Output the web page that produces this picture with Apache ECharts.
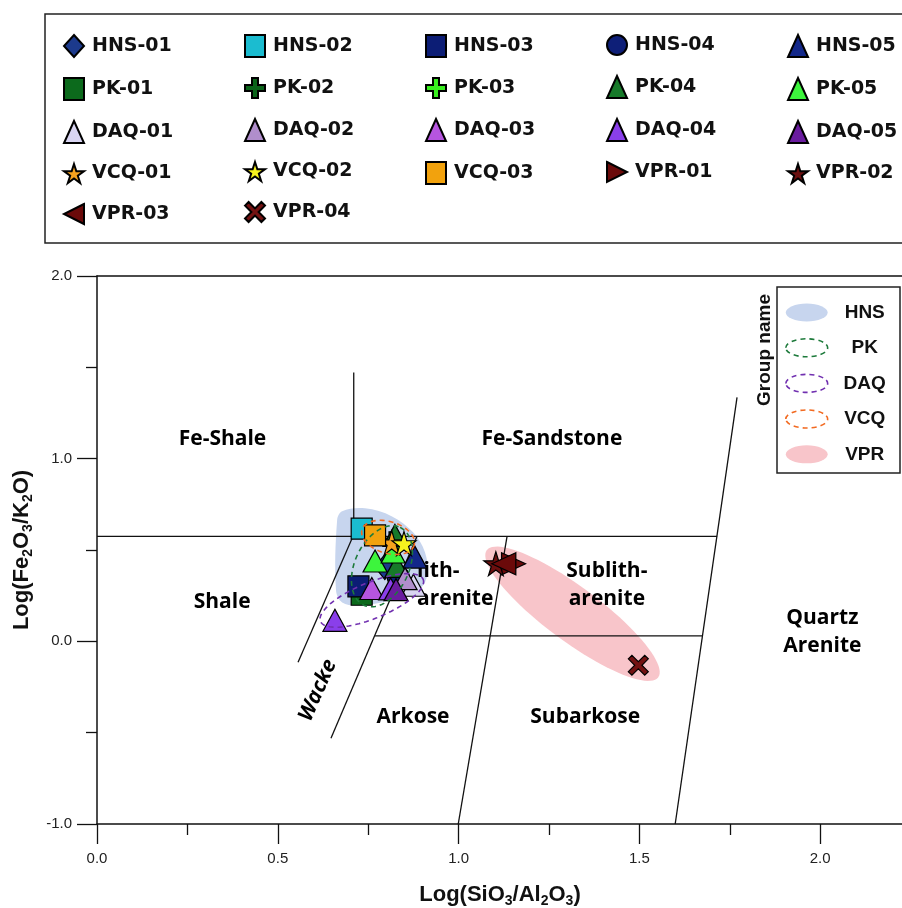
<!DOCTYPE html>
<html>
<head>
<meta charset="utf-8">
<script src="https://cdn.jsdelivr.net/npm/echarts@6/dist/echarts.min.js"></script>
<style>
  html, body { margin: 0; padding: 0; background: #fff; }
  #chart { width: 902px; height: 908px; }
</style>
</head>
<body>
<div id="chart"></div>
<script>
// samples (legend order, 5 per row)
const sampleNames = [
  'HNS-01', 'HNS-02', 'HNS-03', 'HNS-04', 'HNS-05',
  'PK-01', 'PK-02', 'PK-03', 'PK-04', 'PK-05',
  'DAQ-01', 'DAQ-02', 'DAQ-03', 'DAQ-04', 'DAQ-05',
  'VCQ-01', 'VCQ-02', 'VCQ-03', 'VPR-01', 'VPR-02',
  'VPR-03', 'VPR-04'
]
const sampleShapes = [
  'diamond', 'rect', 'rect', 'circle', 'triangle',
  'rect', 'plus', 'plus', 'triangle', 'triangle',
  'triangle', 'triangle', 'triangle', 'triangle', 'triangle',
  'star', 'star', 'rect', 'right', 'star',
  'left', 'x'
]
const sampleColors = [
  '#1c3a8c', '#1bbcd0', '#0c1d75', '#0e1f78', '#13288a',
  '#0c6a1c', '#0b641a', '#39ee1f', '#177a2a', '#3df53d',
  '#d9d5f2', '#b08ecc', '#b655df', '#8a3fea', '#6a1c9f',
  '#f6a21e', '#f7f31e', '#f2a20d', '#6b0a0a', '#6b0f0f',
  '#6b0a0a', '#731212'
]
// [log(SiO2/Al2O3), log(Fe2O3/K2O)] per sample
const samplePoints = [
  [[0.796, 0.407]], [[0.732, 0.617]], [[0.723, 0.301]], [[0.833, 0.352]], [[0.879, 0.461]],
  [[0.732, 0.255]], [[0.815, 0.55]], [[0.83, 0.52]], [[0.824, 0.58], [0.829, 0.41]], [[0.769, 0.44], [0.819, 0.489]],
  [[0.875, 0.307]], [[0.852, 0.343]], [[0.76, 0.289]], [[0.658, 0.115], [0.812, 0.287]], [[0.827, 0.283]],
  [[0.815, 0.54]], [[0.849, 0.535]], [[0.769, 0.58]], [[1.152, 0.425]], [[1.103, 0.425]],
  [[1.125, 0.425]], [[1.497, -0.131]]
]

// group fields
const groupNames = ['HNS', 'PK', 'DAQ', 'VCQ', 'VPR']
const hnsOutline = [
  [0.664, 0.662], [0.678, 0.712], [0.741, 0.728], [0.816, 0.684], [0.874, 0.597], [0.907, 0.487],
  [0.913, 0.361], [0.888, 0.279], [0.81, 0.224], [0.727, 0.197], [0.678, 0.213], [0.661, 0.279]
]
// ellipse: centre, end of major axis, end of minor axis
const pkEllipse = [[0.788, 0.411], [0.838, 0.624], [0.856, 0.349]]
const daqEllipse = [[0.76, 0.224], [0.902, 0.339], [0.779, 0.133]]
const vcqEllipse = [[0.805, 0.569], [0.877, 0.526], [0.792, 0.486]]
const vprEllipse = [[1.315, 0.151], [1.552, -0.197], [1.27, 0.032]]

// classification boundaries
const boundaryLines = [
  [[0, 0.575], [1.715, 0.575]],
  [[0.71, 0.575], [0.71, 1.472]],
  [[0.556, -0.115], [0.708, 0.575]],
  [[0.647, -0.531], [0.885, 0.575]],
  [[0.769, 0.03], [1.674, 0.03]],
  [[0.999, -1], [1.134, 0.575]],
  [[1.599, -1], [1.77, 1.336]]
]
const regionTexts = ['Fe-Shale', 'Fe-Sandstone', 'Shale', 'lith-\narenite', 'Sublith-\narenite', 'Quartz\nArenite', 'Arkose', 'Subarkose', 'Wacke']
const regionPos = [[0.347, 1.106], [1.258, 1.106], [0.346, 0.213], [0.885, 0.307], [1.41, 0.31], [2.006, 0.049], [0.874, -0.416], [1.35, -0.416], [0.611, -0.268]]

const symbolOf = {
  diamond: 'diamond', rect: 'rect', circle: 'circle', triangle: 'triangle',
  plus: 'path://M35,0H65V35H100V65H65V100H35V65H0V35H35Z',
  star: 'path://M50,0L61.2,34.5L97.6,34.5L68.2,55.9L79.4,90.5L50,69.1L20.6,90.5L31.8,55.9L2.4,34.5L38.8,34.5Z',
  x: 'path://M0,18L18,0L50,32L82,0L100,18L68,50L100,82L82,100L50,68L18,100L0,82L32,50Z',
  right: 'path://M0,0L100,50L0,100Z',
  left: 'path://M100,0L0,50L100,100Z'
}
const sizeOf = {
  diamond: [20, 25], rect: 21, circle: 22, triangle: [24, 22], plus: 18,
  star: 24, x: 20, right: [24, 22], left: [24, 22]
}
const groupStyle = {
  HNS: { fill: '#c7d5ee', stroke: null },
  PK: { fill: 'none', stroke: '#1d7a3b' },
  DAQ: { fill: 'none', stroke: '#7130b0' },
  VCQ: { fill: 'none', stroke: '#f26a21' },
  VPR: { fill: '#f8c5ca', stroke: null }
}
const ellipseIcon = 'path://M0,21.5A50,21.5,0,1,1,100,21.5A50,21.5,0,1,1,0,21.5Z'

const chart = echarts.init(document.getElementById('chart'), null, { renderer: 'canvas' })

function ellipsePoints(def, api) {
  const c = api.coord(def[0]), a = api.coord(def[1]), b = api.coord(def[2])
  const rx = Math.hypot(a[0] - c[0], a[1] - c[1])
  const ry = Math.hypot(b[0] - c[0], b[1] - c[1])
  const ang = Math.atan2(a[1] - c[1], a[0] - c[0])
  const pts = []
  for (let i = 0; i < 90; i++) {
    const t = i / 90 * Math.PI * 2
    const ex = rx * Math.cos(t), ey = ry * Math.sin(t)
    pts.push([c[0] + ex * Math.cos(ang) - ey * Math.sin(ang), c[1] + ex * Math.sin(ang) + ey * Math.cos(ang)])
  }
  return pts
}

function groupSeries(name, def, isOutline) {
  const st = groupStyle[name]
  return {
    type: 'custom', name, data: def, encode: { x: 0, y: 1 },
    z: st.stroke ? 7 : 1, silent: true, clip: false,
    renderItem: (params, api) => {
      if (params.dataIndex !== 0) return
      const pts = isOutline ? def.map(p => api.coord(p)) : ellipsePoints(def, api)
      return {
        type: 'polygon',
        shape: { points: pts, smooth: isOutline ? 0.35 : 0 },
        style: st.stroke
          ? { fill: 'none', stroke: st.stroke, lineWidth: 1.6, lineDash: [5, 4] }
          : { fill: st.fill }
      }
    }
  }
}

const regionStyle = {
  'lith-\narenite': { align: 'left' },
  'Wacke': { rotate: 66, italic: true }
}

const series = []
series.push(groupSeries('HNS', hnsOutline, true))
series.push(groupSeries('VPR', vprEllipse, false))
boundaryLines.forEach((ln, i) => series.push({
  type: 'line', name: 'boundary' + i, data: ln, symbol: 'none', silent: true, z: 3,
  lineStyle: { color: '#111', width: 1.3 }
}))
series.push({
  type: 'custom', name: 'regions', data: regionPos, encode: { x: 0, y: 1 }, z: 4, silent: true,
  renderItem: (params, api) => {
    const txt = regionTexts[params.dataIndex]
    const s = regionStyle[txt] || {}
    const p = api.coord([api.value(0), api.value(1)])
    return {
      type: 'text', x: p[0], y: p[1], rotation: (s.rotate || 0) * Math.PI / 180,
      style: {
        text: txt, fill: '#000', align: s.align || 'center', verticalAlign: 'middle',
        fontFamily: 'Open Sans', fontWeight: 'bold', fontSize: 21, lineHeight: 28,
        fontStyle: s.italic ? 'italic' : 'normal'
      }
    }
  }
})
sampleNames.forEach((name, i) => series.push({
  type: 'scatter', name, data: samplePoints[i],
  symbol: symbolOf[sampleShapes[i]], symbolSize: sizeOf[sampleShapes[i]],
  itemStyle: { color: sampleColors[i], borderColor: '#000', borderWidth: 1.2, opacity: 1 },
  z: name === 'PK-01' ? 4 : 5
}))
series.push(groupSeries('PK', pkEllipse, false))
series.push(groupSeries('DAQ', daqEllipse, false))
series.push(groupSeries('VCQ', vcqEllipse, false))

const legendCols = [0, 1, 2, 3, 4].map(c => ({
  orient: 'vertical', left: 58 + c * 181, top: 29, padding: 5,
  itemWidth: 20, itemHeight: 22, itemGap: 19, selectedMode: false,
  data: sampleNames.filter((_, i) => i % 5 === c),
  textStyle: { fontFamily: 'DejaVu Sans', fontWeight: 'bold', fontSize: 19, color: '#111', padding: [0, 0, 0, 3] }
}))
legendCols.push({
  orient: 'vertical', left: 780, top: 298, padding: 5,
  itemWidth: 42, itemHeight: 18, itemGap: 16, selectedMode: false,
  data: groupNames.map(n => ({
    name: n, icon: ellipseIcon,
    itemStyle: groupStyle[n].stroke
      ? { color: 'rgba(0,0,0,0)', borderColor: groupStyle[n].stroke, borderWidth: 1.6, borderType: [5, 4] }
      : { color: groupStyle[n].fill, borderWidth: 0 }
  })),
  formatter: n => '{g|' + n + '}',
  textStyle: { rich: { g: { width: 64, height: 22, align: 'center', fontFamily: 'Liberation Sans', fontWeight: 'bold', fontSize: 19, color: '#111' } } }
})

const axisLine = { onZero: false, lineStyle: { color: '#111', width: 1.5 } }
const labelFont = { fontFamily: 'Liberation Sans', fontSize: 15, color: '#222' }
const nameRich = {
  b: { fontFamily: 'Liberation Sans', fontWeight: 'bold', fontSize: 22, lineHeight: 26, color: '#111' },
  s: { fontFamily: 'Liberation Sans', fontWeight: 'bold', fontSize: 14, lineHeight: 12, verticalAlign: 'bottom', color: '#111' }
}

const option = {
  backgroundColor: '#fff',
  animation: false,
  grid: { left: 97, top: 276, right: -99, bottom: 84, containLabel: false, outerBoundsMode: 'none' },
  legend: legendCols,
  xAxis: [
    {
      type: 'value', min: 0, max: 2.5, interval: 0.5,
      axisLine, splitLine: { show: false },
      axisTick: { length: 20, lineStyle: { color: '#111', width: 1.3 } },
      minorTick: { show: true, splitNumber: 2, length: 11, lineStyle: { color: '#111', width: 1.3 } },
      axisLabel: { margin: 27, formatter: v => v.toFixed(1), ...labelFont },
      name: '{b|Log(SiO}{s|3}{b|/Al}{s|2}{b|O}{s|3}{b|)}',
      nameLocation: 'middle', nameGap: 58,
      nameTextStyle: { rich: nameRich, padding: [0, 98, 0, 0] }
    },
    {
      type: 'value', position: 'top', min: 0, max: 2.5,
      axisLine, axisTick: { show: false }, axisLabel: { show: false }, splitLine: { show: false }
    }
  ],
  yAxis: {
    type: 'value', min: -1, max: 2, interval: 1,
    axisLine: { show: true, ...axisLine }, splitLine: { show: false },
    axisTick: { show: true, length: 20, lineStyle: { color: '#111', width: 1.3 } },
    minorTick: { show: true, splitNumber: 2, length: 11, lineStyle: { color: '#111', width: 1.3 } },
    axisLabel: { margin: 25, formatter: v => v.toFixed(1), ...labelFont },
    name: '{b|Log(Fe}{s|2}{b|O}{s|3}{b|/K}{s|2}{b|O)}',
    nameLocation: 'middle', nameGap: 62,
    nameTextStyle: { rich: nameRich }
  },
  graphic: [
    { type: 'rect', shape: { x: 45, y: 14, width: 880, height: 229 }, style: { fill: 'none', stroke: '#222', lineWidth: 1.5 }, z: 10 },
    { type: 'rect', shape: { x: 777, y: 287, width: 123, height: 186 }, style: { fill: '#fff', stroke: '#222', lineWidth: 1.5 }, z: -1 },
    {
      type: 'text', x: 765, y: 350, rotation: Math.PI / 2,
      style: { text: 'Group name', fontFamily: 'Liberation Sans', fontWeight: 'bold', fontSize: 19, fill: '#111', align: 'center', verticalAlign: 'middle' }
    }
  ],
  series
}

chart.setOption(option)
window.addEventListener('resize', () => chart.resize())
</script>
</body>
</html>
